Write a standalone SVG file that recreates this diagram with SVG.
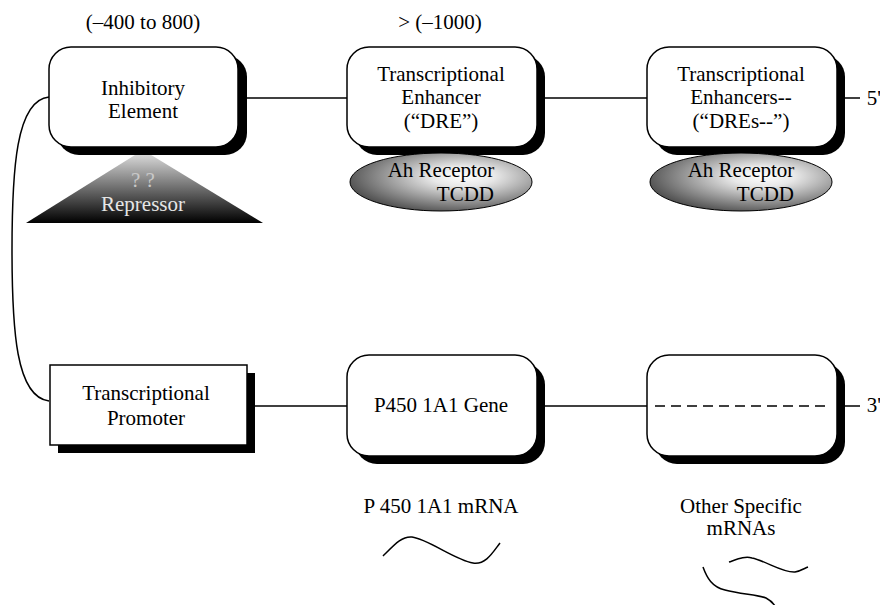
<svg xmlns="http://www.w3.org/2000/svg" width="880" height="605" viewBox="0 0 880 605">
<style>
text{font-family:'Liberation Serif','Times New Roman','DejaVu Serif',serif;font-size:21px;fill:#000;text-anchor:middle}
.box{fill:#fff;stroke:#000;stroke-width:1.5}
.sh{fill:#000}
.ln{fill:none;stroke:#000;stroke-width:1.5}
.ell{fill:url(#eg);stroke:#000;stroke-width:1}
</style>
<defs>
<linearGradient id="tg" x1="0" y1="0" x2="0" y2="1">
<stop offset="0" stop-color="#e6e6e6"/>
<stop offset="1" stop-color="#000"/>
</linearGradient>
<radialGradient id="eg" cx="0.62" cy="0.4" r="0.7">
<stop offset="0" stop-color="#ffffff"/>
<stop offset="0.25" stop-color="#e8e8e8"/>
<stop offset="1" stop-color="#404040"/>
</radialGradient>
</defs>

<g id="connectors">
<path class="ln" d="M49,97 C16,100 12,170 12,250 C12,330 16,397 49,401"/>
<line class="ln" x1="246" y1="98" x2="347" y2="98"/>
<line class="ln" x1="545" y1="98" x2="647" y2="98"/>
<line class="ln" x1="845" y1="98" x2="860" y2="98"/>
<line class="ln" x1="255" y1="406" x2="347" y2="406"/>
<line class="ln" x1="545" y1="406" x2="647" y2="406"/>
<line class="ln" x1="845" y1="406" x2="860" y2="406"/>
</g>

<text x="143" y="29">(–400 to 800)</text>
<text x="440" y="29">&gt; (–1000)</text>

<g id="repressor">
<polygon points="143,150 26,223 263,223" fill="url(#tg)"/>
<text x="143" y="187" style="fill:#c8c8c8">? ?</text>
<text x="143" y="211" style="fill:#e6e6e6">Repressor</text>
</g>

<g id="inhibitory">
<rect class="sh" x="57" y="55" width="190" height="100" rx="22"/>
<rect class="box" x="49" y="47" width="189" height="100" rx="22"/>
<text x="143" y="95">Inhibitory</text>
<text x="143" y="118">Element</text>
</g>

<g id="enhancer">
<rect class="sh" x="355" y="55" width="190" height="100" rx="22"/>
<rect class="box" x="347" y="47" width="190" height="100" rx="22"/>
<text x="441" y="81">Transcriptional</text>
<text x="441" y="104">Enhancer</text>
<text x="441" y="128">(“DRE”)</text>
</g>

<g id="receptor1">
<ellipse class="ell" cx="441" cy="182" rx="91" ry="29"/>
<text x="441" y="177">Ah Receptor</text>
<text x="494" y="201" style="text-anchor:end">TCDD</text>
</g>

<g id="enhancers">
<rect class="sh" x="655" y="55" width="190" height="100" rx="22"/>
<rect class="box" x="647" y="47" width="190" height="100" rx="22"/>
<text x="741" y="81">Transcriptional</text>
<text x="741" y="104">Enhancers--</text>
<text x="741" y="128">(“DREs--”)</text>
</g>

<g id="receptor2">
<ellipse class="ell" cx="741" cy="182" rx="91" ry="29"/>
<text x="741" y="177">Ah Receptor</text>
<text x="794" y="201" style="text-anchor:end">TCDD</text>
</g>

<text x="874" y="105">5'</text>

<g id="promoter">
<rect class="sh" x="58" y="373" width="197" height="80"/>
<rect class="box" x="50" y="365" width="197" height="80"/>
<text x="146" y="400">Transcriptional</text>
<text x="146" y="425">Promoter</text>
</g>

<g id="gene">
<rect class="sh" x="355" y="363" width="190" height="101" rx="22"/>
<rect class="box" x="347" y="355" width="190" height="101" rx="22"/>
<text x="441" y="412">P450 1A1 Gene</text>
</g>

<g id="other">
<rect class="sh" x="655" y="363" width="190" height="101" rx="22"/>
<rect class="box" x="647" y="355" width="190" height="101" rx="22"/>
<line x1="655" y1="406" x2="829" y2="406" stroke="#000" stroke-width="1.5" stroke-dasharray="10,6"/>
</g>

<text x="874" y="412">3'</text>

<g id="mrna1">
<text x="441" y="513">P 450 1A1 mRNA</text>
<path class="ln" d="M383,556 C395,544 402,536 412,537 C428,539 455,560 473,563 C486,565 493,552 500,543"/>
</g>

<g id="mrna2">
<text x="741" y="513">Other Specific</text>
<text x="741" y="535">mRNAs</text>
<path class="ln" d="M729,562 C738,559 745,556 752,558 C766,561 783,573 795,572 C801,571 805,568 808,567"/>
<path class="ln" d="M703,567 C707,578 712,587 725,590 C740,594 758,595 766,598 C770,600 773,603 775,606"/>
</g>
</svg>
